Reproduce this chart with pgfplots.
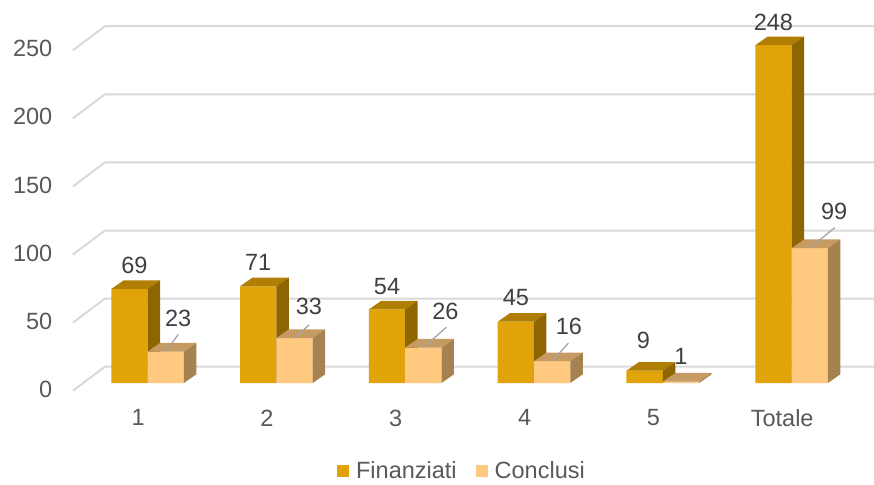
\documentclass[border=0pt]{standalone}
\usepackage{fontspec}
\setmainfont{Liberation Sans}
\usepackage{pgfplots}
\usepackage{pgfplotstable}
\pgfplotsset{compat=1.18}
\definecolor{Ffront}{RGB}{224,163,9}
\definecolor{Ftop}{RGB}{176,126,2}
\definecolor{Fside}{RGB}{142,101,0}
\definecolor{Cfront}{RGB}{255,201,128}
\definecolor{Ctop}{RGB}{197,154,99}
\definecolor{Cside}{RGB}{166,130,80}
\definecolor{gridc}{RGB}{217,217,217}
\definecolor{axtext}{RGB}{89,89,89}
\definecolor{labtext}{RGB}{64,64,64}
\definecolor{leadc}{RGB}{166,166,166}
\pgfplotsset{sqlegend/.style={legend image code/.code={\fill[##1] (0pt,-6pt) rectangle (12pt,6pt);\path (0pt,0pt) -- (17pt,0pt);}}}
% i: category, F: Finanziati, C: Conclusi, label offsets (pt), leader offsets (pt)
\pgfplotstableread{
i F C fdx fdy cdx cdy lx ly
0 69 23 5 23.3 12.5 33.7 12.5 17.2
1 71 33 0 23.8 14.4 32.1 14.7 13.3
2 54 26 0 22.5 22 36.6 23 20.3
3 45 16 0 24.2 16.7 34.7 16.3 18.2
4 9 1 -1.3 30.2 0 25.1 0 0
5 248 99 0 22.7 24.5 37.2 25 20.5
}\datatable
\begin{document}
\begin{tikzpicture}[font=\fontsize{23.5}{28}\selectfont]
\path[use as bounding box] (-73pt,-93pt) rectangle (801pt,391pt);
\begin{axis}[
  at={(0pt,0pt)}, anchor=south west, scale only axis,
  x=128.8pt, y=1.362pt,
  xmin=-0.579, xmax=5.640, ymin=-5.87, ymax=262.1,
  clip=false,
  axis line style={draw=none},
  major tick style={draw=none},
  xtick={0,...,5}, xticklabels={1,2,3,4,5,Totale},
  ytick={-4.6,45.4,95.4,145.4,195.4,245.4}, yticklabels={0,50,100,150,200,250},
  /pgf/number format/assume math mode=true,
  tick label style={text=axtext, font=\fontsize{23.5}{28}\selectfont},
  yticklabel style={anchor=east, inner sep=0pt, xshift=-20.5pt},
  xticklabel style={anchor=north, inner sep=0pt, yshift=-18.5pt, xshift=-9.4pt},
  legend style={at={(0.4856,-0.2195)}, anchor=center, draw=none, fill=none,
    legend columns=2, text=axtext, font=\fontsize{23.5}{28}\selectfont,
    inner sep=0pt, nodes={inner ysep=0pt},
    /tikz/every even column/.append style={column sep=17pt}},
  legend cell align=left,
]
% back-wall gridlines
\pgfplotsinvokeforeach{0,50,100,150,200,250}{
  \pgfmathsetmacro\gf{#1-5.65}\pgfmathsetmacro\gb{#1+11.97}
  \edef\tmp{\noexpand\addplot[forget plot, draw=gridc, line width=2pt] coordinates {(-0.579,\gf) (-0.331,\gb) (5.64,\gb)};}\tmp
}
% Finanziati front faces
\addplot[ybar, bar width=0.282, bar shift=-0.141, fill=Ffront, draw=none, sqlegend,
  visualization depends on={\thisrow{fdx}-18.15\as\ldx},
  visualization depends on={\thisrow{fdy}\as\ldy},
  nodes near coords,
  every node near coord/.append style={anchor=center, xshift=\ldx, yshift=\ldy, text=labtext, inner sep=0pt}]
  table[x=i, y=F]{\datatable};
\addlegendentry{Finanziati}
% Finanziati top and side faces
\pgfplotsinvokeforeach{0,...,5}{
  \pgfplotstablegetelem{#1}{F}\of\datatable
  \pgfmathsetmacro\va{\pgfplotsretval}
  \pgfmathsetmacro\vb{\va+6.39}
  \pgfmathsetmacro\xa{#1-0.282}
  \pgfmathsetmacro\xb{#1}
  \pgfmathsetmacro\xc{#1+0.097}
  \pgfmathsetmacro\xd{#1-0.185}
  \edef\tmp{\noexpand\addplot[forget plot, fill=Ftop, draw=none] coordinates {(\xa,\va) (\xb,\va) (\xc,\vb) (\xd,\vb)};
  \noexpand\addplot[forget plot, fill=Fside, draw=none] coordinates {(\xb,0) (\xb,\va) (\xc,\vb) (\xc,6.39)};}\tmp
}
% Conclusi front faces
\addplot[ybar, bar width=0.282, bar shift=0.141, fill=Cfront, draw=none, sqlegend,
  visualization depends on={\thisrow{cdx}+18.15\as\ldx},
  visualization depends on={\thisrow{cdy}\as\ldy},
  nodes near coords,
  every node near coord/.append style={anchor=center, xshift=\ldx, yshift=\ldy, text=labtext, inner sep=0pt}]
  table[x=i, y=C]{\datatable};
\addlegendentry{Conclusi}
% Conclusi top and side faces
\pgfplotsinvokeforeach{0,...,5}{
  \pgfplotstablegetelem{#1}{C}\of\datatable
  \pgfmathsetmacro\va{\pgfplotsretval}
  \pgfmathsetmacro\vb{\va+6.39}
  \pgfmathsetmacro\xa{#1}
  \pgfmathsetmacro\xb{#1+0.282}
  \pgfmathsetmacro\xc{#1+0.379}
  \pgfmathsetmacro\xd{#1+0.097}
  \edef\tmp{\noexpand\addplot[forget plot, fill=Ctop, draw=none] coordinates {(\xa,\va) (\xb,\va) (\xc,\vb) (\xd,\vb)};
  \noexpand\addplot[forget plot, fill=Cside, draw=none] coordinates {(\xb,0) (\xb,\va) (\xc,\vb) (\xc,6.39)};}\tmp
}
% leader lines of Conclusi labels
\addplot[forget plot, draw=leadc, line width=1.3pt,
  quiver={u=\thisrow{lx}/128.8, v=\thisrow{ly}/1.362}]
  table[x expr=\thisrow{i}+0.141, y=C]{\datatable};
\end{axis}
\end{tikzpicture}
\end{document}
